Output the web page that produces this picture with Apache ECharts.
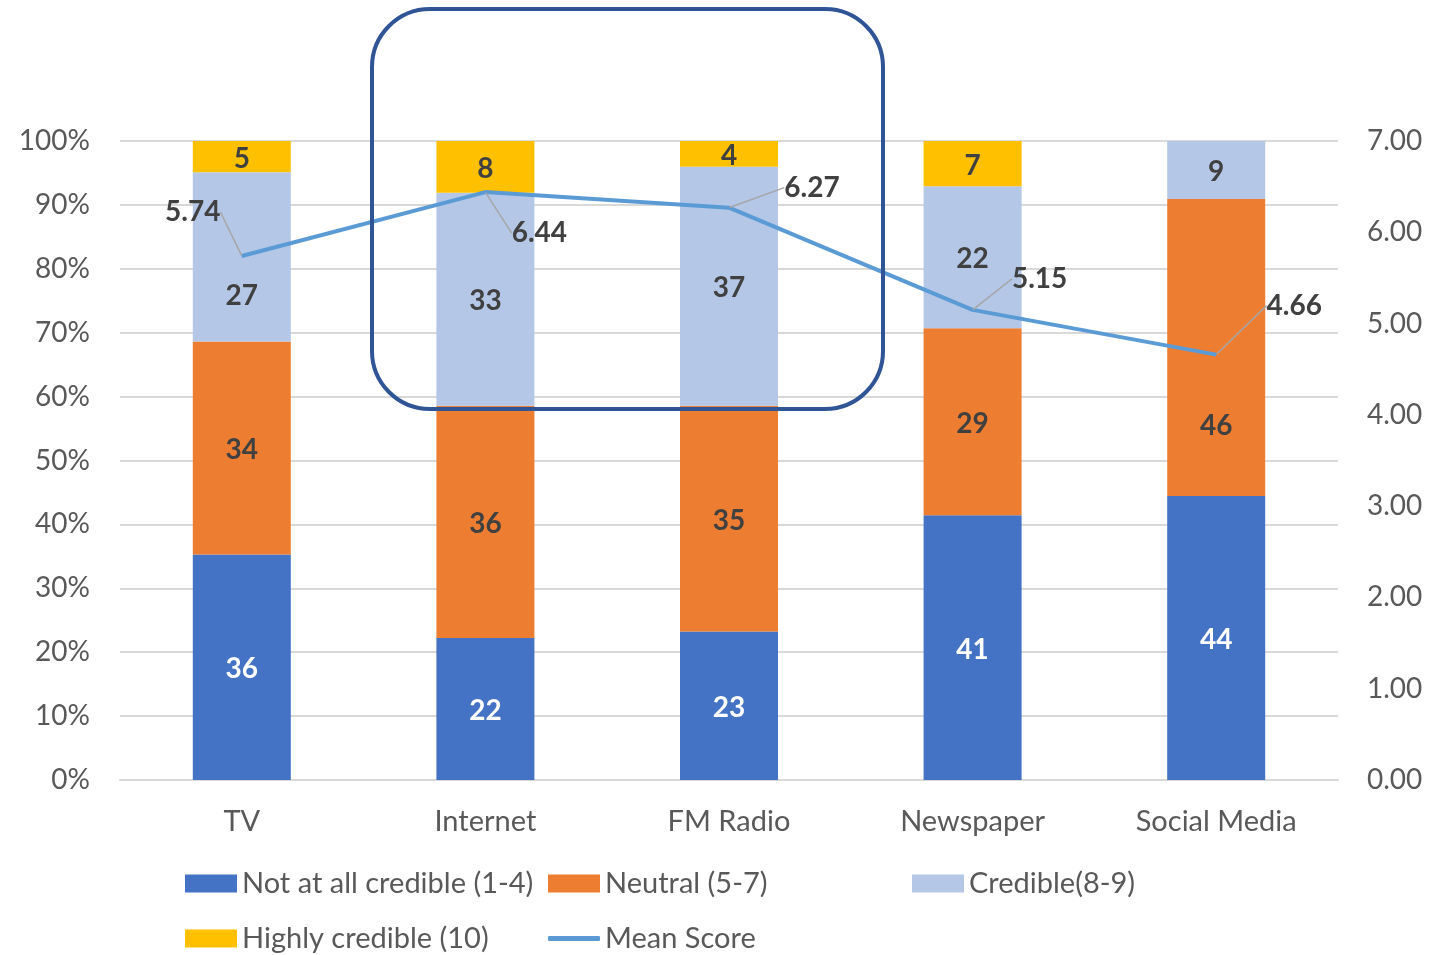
<!DOCTYPE html>
<html>
<head>
<meta charset="utf-8">
<script src="https://cdn.jsdelivr.net/npm/echarts@6/dist/echarts.min.js"></script>
<style>
  html, body { margin: 0; padding: 0; background: #fff; }
  #main { width: 1450px; height: 955px; }
</style>
</head>
<body>
<div id="main"></div>
<script>
    // 数据
    var categories = [ 'TV', 'Internet', 'FM Radio', 'Newspaper', 'Social Media' ];
    var notCredible = [ 36, 22, 23, 41, 44 ];
    var neutral = [ 34, 36, 35, 29, 46 ];
    var credible = [ 27, 33, 37, 22, 9 ];
    var highlyCredible = [ 5, 8, 4, 7, 0 ];
    var meanScore = [ 5.74, 6.44, 6.27, 5.15, 4.66 ];
    var leftTicks = [ 0, 10, 20, 30, 40, 50, 60, 70, 80, 90, 100 ];
    var rightTicks = [ 0, 1, 2, 3, 4, 5, 6, 7 ];

    // 均值标签偏移(像素)
    var labelOffsets = [ [ -49, -44 ], [ 54, 41 ], [ 83, -20 ], [ 67, -31 ], [ 78, -49 ] ];
    // 手动下移的柱标签(像素), 避开折线
    var credibleShift = [ 39, 2, 2, 2, 2 ];
    var neutralShift = [ 2, 2, 2, 2, 78 ];
    var otherShift = [ 2, 2, 2, 2, 2 ];

    var FONT = 'Lato';
    var TEXT = '#595959';
    var FS = 28;

    var totals = categories.map( function( c, i ) {
        return notCredible[i] + neutral[i] + credible[i] + highlyCredible[i];
    } );

    // 百分比堆叠, 标签显示原始值
    function pctData( arr, shift ) {
        return arr.map( function( v, i ) {
            var item = { value: v / totals[i] * 100, raw: v };
            if( shift && shift[i] ) {
                item.label = { offset: [ 0, shift[i] ] };
            }
            return item;
        } );
    }

    function barSeries( name, arr, color, labelColor, shift ) {
        return {
            name: name,
            type: 'bar',
            stack: 'total',
            barWidth: 98,
            itemStyle: { color: color },
            label: {
                show: true,
                position: 'inside',
                fontFamily: FONT,
                fontSize: FS,
                fontWeight: 'bold',
                color: labelColor,
                formatter: function( p ) {
                    return p.data.raw ? p.data.raw : '';
                }
            },
            data: pctData( arr, shift )
        };
    }

    var legendItems = [
        { name: 'Not at all credible (1-4)', left: 185, top: 869 },
        { name: 'Neutral (5-7)', left: 548, top: 869 },
        { name: 'Credible(8-9)', left: 912, top: 869 },
        { name: 'Highly credible (10)', left: 185, top: 924 },
        { name: 'Mean Score', left: 548, top: 924, line: true }
    ];

    var legends = legendItems.map( function( it ) {
        return {
            left: it.left,
            top: it.top,
            itemWidth: 52,
            itemHeight: it.line ? 5 : 18,
            itemGap: 0,
            padding: 0,
            icon: it.line ? 'roundRect' : 'rect',
            data: [ it.name ],
            textStyle: {
                fontFamily: FONT,
                fontSize: 29,
                color: TEXT
            }
        };
    } );

    var myChart = echarts.init( document.getElementById( 'main' ) ),
        option = {
            animation: false,
            backgroundColor: '#fff',
            legend: legends,
            grid: {
                left: 120,
                right: 112,
                top: 141,
                bottom: 175
            },
            xAxis: {
                type: 'category',
                data: categories,
                axisLine: { lineStyle: { color: '#D9D9D9', width: 2 } },
                axisTick: { show: false },
                axisLabel: {
                    fontFamily: FONT,
                    fontSize: 29,
                    color: TEXT,
                    margin: 27
                }
            },
            yAxis: [
                {
                    type: 'value',
                    min: leftTicks[0],
                    max: leftTicks[leftTicks.length - 1],
                    interval: 10,
                    axisLine: { show: false },
                    axisTick: { show: false },
                    splitLine: { lineStyle: { color: '#D9D9D9', width: 2 } },
                    axisLabel: {
                        fontFamily: FONT,
                        fontSize: FS,
                        color: TEXT,
                        margin: 30,
                        formatter: '{value}%'
                    }
                },
                {
                    type: 'value',
                    min: rightTicks[0],
                    max: rightTicks[rightTicks.length - 1],
                    interval: 1,
                    axisLine: { show: false },
                    axisTick: { show: false },
                    splitLine: { show: false },
                    axisLabel: {
                        fontFamily: FONT,
                        fontSize: FS,
                        color: TEXT,
                        margin: 29,
                        formatter: function( v ) { return v.toFixed( 2 ); }
                    }
                }
            ],
            series: [
                barSeries( 'Not at all credible (1-4)', notCredible, '#4472C4', '#FFFFFF', otherShift ),
                barSeries( 'Neutral (5-7)', neutral, '#ED7D31', '#404040', neutralShift ),
                barSeries( 'Credible(8-9)', credible, '#B4C7E7', '#404040', credibleShift ),
                barSeries( 'Highly credible (10)', highlyCredible, '#FFC000', '#404040', otherShift ),
                {
                    name: 'Mean Score',
                    type: 'line',
                    yAxisIndex: 1,
                    symbol: 'circle',
                    symbolSize: 1,
                    itemStyle: { color: '#5B9BD5' },
                    lineStyle: { color: '#5B9BD5', width: 4 },
                    z: 5,
                    label: {
                        show: true,
                        position: 'inside',
                        fontFamily: FONT,
                        fontSize: FS,
                        fontWeight: 'bold',
                        color: '#404040',
                        formatter: function( p ) { return p.value.toFixed( 2 ); }
                    },
                    labelLine: {
                        show: true,
                        lineStyle: { color: '#A6A6A6', width: 1.5 }
                    },
                    labelLayout: function( p ) {
                        var o = labelOffsets[p.dataIndex];
                        return { dx: o[0], dy: o[1] };
                    },
                    data: meanScore
                }
            ],
            graphic: [
                {
                    type: 'rect',
                    z: 100,
                    shape: { x: 372, y: 9, width: 511, height: 400, r: 58 },
                    style: { fill: 'none', stroke: '#2F5597', lineWidth: 4 }
                }
            ]
        };

    myChart.setOption( option );
</script>
</body>
</html>
